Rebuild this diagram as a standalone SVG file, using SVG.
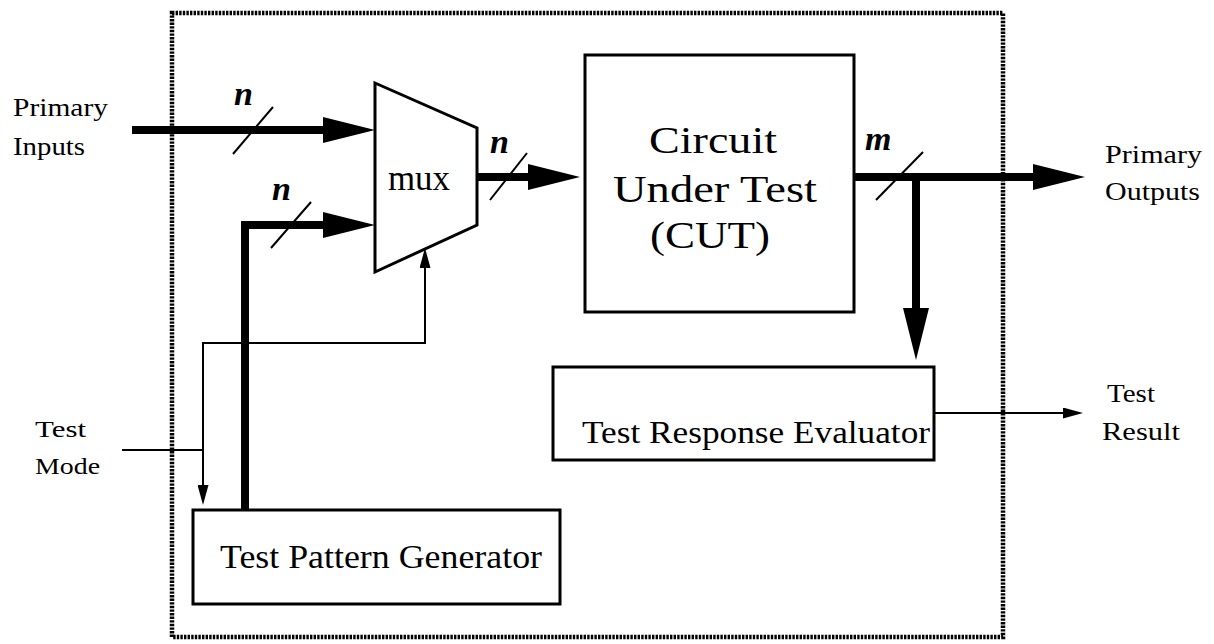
<svg xmlns="http://www.w3.org/2000/svg" width="1214" height="644" viewBox="0 0 1214 644">
<style>
text{font-family:"Liberation Serif","Times New Roman",serif;fill:#000}
.lbl{font-size:26px}
.box{fill:#fff;stroke:#000;stroke-width:3}
.bus{fill:none;stroke:#000;stroke-width:8}
.thin{fill:none;stroke:#000;stroke-width:2}
.w{font-size:34px;font-style:italic;font-weight:bold}
.border{fill:none;stroke:#000;stroke-width:4.5;stroke-dasharray:2.4 1.2}
</style>
<defs>
<marker id="big" markerUnits="userSpaceOnUse" markerWidth="52" markerHeight="26" viewBox="0 0 52 26" refX="12" refY="13" orient="auto">
<path d="M0,0 L52,13 L0,26 Z" fill="#000"/>
</marker>
<marker id="small" markerUnits="userSpaceOnUse" markerWidth="20" markerHeight="11" viewBox="0 0 20 11" refX="4" refY="5.5" orient="auto-start-reverse">
<path d="M0,0 L20,5.5 L0,11 Z" fill="#000"/>
</marker>
</defs>
<rect width="1214" height="644" fill="#fff"/>
<rect id="bist-boundary" class="border" x="172" y="13" width="831" height="624"/>

<g id="connectors">
<path class="bus" d="M132,130 L335,130" marker-end="url(#big)"/>
<path class="bus" d="M245,510 L245,225 L335,225" marker-end="url(#big)"/>
<path class="bus" d="M477,177 L540,177" marker-end="url(#big)"/>
<path class="bus" d="M854,177 L1045,177" marker-end="url(#big)"/>
<path class="bus" d="M916,177 L916,320" marker-end="url(#big)"/>
<path class="thin" d="M425,264 L425,343 L203,343 L203,489" marker-start="url(#small)" marker-end="url(#small)"/>
<path class="thin" d="M122,450 L203,450"/>
<path class="thin" d="M934,413 L1067,413" marker-end="url(#small)"/>
<line class="thin" x1="273" y1="107" x2="233" y2="154"/>
<line class="thin" x1="311" y1="202" x2="271" y2="248"/>
<line class="thin" x1="527" y1="153" x2="490" y2="200"/>
<line class="thin" x1="923" y1="152" x2="876" y2="200"/>
<text class="w" x="234" y="105">n</text>
<text class="w" x="272" y="200">n</text>
<text class="w" x="490" y="153">n</text>
<text class="w" x="865" y="150">m</text>
</g>

<g id="mux">
<polygon class="box" points="375,83 477,128 477,225 375,272"/>
<text x="388" y="190" font-size="36" textLength="62" lengthAdjust="spacingAndGlyphs">mux</text>
</g>

<g id="cut">
<rect class="box" x="585" y="55" width="269" height="257"/>
<text x="713" y="153" font-size="38" text-anchor="middle" textLength="128" lengthAdjust="spacingAndGlyphs">Circuit</text>
<text x="715" y="202" font-size="38" text-anchor="middle" textLength="204" lengthAdjust="spacingAndGlyphs">Under Test</text>
<text x="710" y="248" font-size="38" text-anchor="middle" textLength="120" lengthAdjust="spacingAndGlyphs">(CUT)</text>
</g>

<g id="tre">
<rect class="box" x="553" y="367" width="381" height="93"/>
<text x="582" y="443" font-size="32" textLength="348" lengthAdjust="spacingAndGlyphs">Test Response Evaluator</text>
</g>

<g id="tpg">
<rect class="box" x="193" y="510" width="367" height="94"/>
<text x="220" y="568" font-size="33" textLength="322" lengthAdjust="spacingAndGlyphs">Test Pattern Generator</text>
</g>

<g id="primary-inputs">
<text class="lbl" x="13" y="116" textLength="95" lengthAdjust="spacingAndGlyphs">Primary</text>
<text class="lbl" x="13" y="155" textLength="72" lengthAdjust="spacingAndGlyphs">Inputs</text>
</g>

<g id="test-mode">
<text x="35" y="437" font-size="24" textLength="51" lengthAdjust="spacingAndGlyphs">Test</text>
<text x="35" y="474" font-size="24" textLength="65" lengthAdjust="spacingAndGlyphs">Mode</text>
</g>

<g id="primary-outputs">
<text class="lbl" x="1105" y="163" textLength="97" lengthAdjust="spacingAndGlyphs">Primary</text>
<text class="lbl" x="1105" y="200" textLength="95" lengthAdjust="spacingAndGlyphs">Outputs</text>
</g>

<g id="test-result">
<text class="lbl" x="1107" y="402" textLength="48" lengthAdjust="spacingAndGlyphs">Test</text>
<text class="lbl" x="1102" y="440" textLength="78" lengthAdjust="spacingAndGlyphs">Result</text>
</g>
</svg>
